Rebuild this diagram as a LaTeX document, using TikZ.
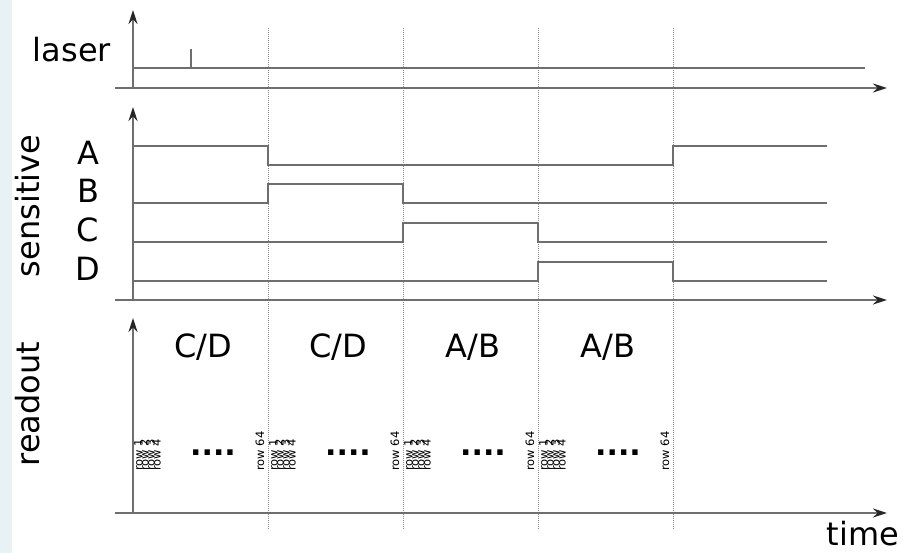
\documentclass[tikz,border=0pt]{standalone}
\usepackage{fontspec}
\setmainfont{DejaVu Sans}
\usetikzlibrary{arrows.meta}
\definecolor{stripbg}{HTML}{E8F1F4}
\definecolor{linegray}{HTML}{6E6E6E}
\tikzset{
  axisline/.style={draw=linegray, line width=1.6pt, -{Stealth[length=14pt,width=9pt,black!85]}},
  signal/.style={draw=linegray, line width=1.6pt},
  divider/.style={draw=black!45, line width=0.8pt, dash pattern=on 1pt off 1pt},
  bigtext/.style={font=\fontsize{32}{38}\selectfont, inner sep=0pt, anchor=base},
  rowtext/.style={font=\fontsize{11.5}{13}\selectfont, inner sep=0pt, anchor=base west, rotate=90},
}
\begin{document}
\begin{tikzpicture}[x=1pt,y=-1pt]
\useasboundingbox (0,0) rectangle (903,553);
\fill[stripbg] (0,0) rectangle (12,553);

% phase boundaries
\foreach \x in {268,403,538,673}
  \draw[divider] (\x,28) -- (\x,530);

% ---- laser ----
\coordinate (lo) at (133,88);
\draw[axisline] (115,88) -- (887,88);
\draw[axisline] (lo) -- (133,10);
\draw[signal] (133,68) -- (865,68);
\draw[signal] (191,68) -- (191,49);
\node[bigtext] (laser) at (72,62) {laser};

% ---- sensitive ----
\coordinate (so) at (133,300);
\draw[axisline] (115,300) -- (887,300);
\draw[axisline] (so) -- (133,107);
\draw[signal] (133,146) -| (268,165) -| (673,146) -- (827,146);
\draw[signal] (133,203) -| (268,184) -| (403,203) -- (827,203);
\draw[signal] (133,242) -| (403,223) -| (538,242) -- (827,242);
\draw[signal] (133,281) -| (538,262) -| (673,281) -- (827,281);
\node[bigtext] (la) at (88,165) {A};
\node[bigtext] (lb) at (88,203) {B};
\node[bigtext] (lc) at (88,242) {C};
\node[bigtext] (ld) at (88,281) {D};
\node[bigtext, rotate=90] (sens) at (39,206) {sensitive};

% ---- readout ----
\coordinate (ro) at (133,513);
\draw[axisline] (115,513) -- (887,513);
\draw[axisline] (ro) -- (133,318);
\node[bigtext, rotate=90] (read) at (39,404) {readout};
\node[bigtext] (time) at (863,545) {time};

\node[bigtext] (p1) at (203,358) {C/D};
\node[bigtext] (p2) at (338,358) {C/D};
\node[bigtext] (p3) at (473,358) {A/B};
\node[bigtext] (p4) at (608,358) {A/B};

\foreach \x [count=\i] in {133,268,403,538} {
  \node[rowtext] (r1-\i) at (\x+9.5,471) {row 1};
  \node[rowtext] (r2-\i) at (\x+15.5,471) {row 2};
  \node[rowtext] (r3-\i) at (\x+21.5,471) {row 3};
  \node[rowtext] (r4-\i) at (\x+27.5,471) {row 4};
  \node[bigtext, font=\fontsize{30}{36}\selectfont\bfseries] (dots-\i) at (\x+80,456) {....};
  \node[rowtext] (r64-\i) at (\x+131,471) {row 64};
}
\end{tikzpicture}
\end{document}
